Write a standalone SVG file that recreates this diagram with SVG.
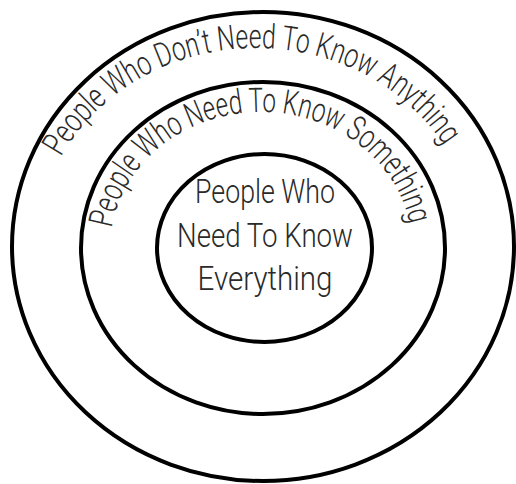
<svg xmlns="http://www.w3.org/2000/svg" width="516" height="484" viewBox="0 0 516 484">
<style>
.ring{fill:none;stroke:#000;stroke-width:4}
.lbl{font-family:Roboto,"Open Sans","Liberation Sans",sans-serif;font-weight:300;fill:#2a2a2a;font-size:34px}
.ctr{text-anchor:middle}
</style>
<defs>
<path id="arcOuter" d="M37,248 A219,200 0 0 1 475,248"/>
<path id="arcMiddle" d="M110,248 A151,136 0 0 1 412,248"/>
</defs>
<rect width="516" height="484" fill="#fff"/>
<g id="outer">
<ellipse class="ring" cx="263" cy="246.5" rx="251" ry="234.5"/>
<text class="lbl"><textPath href="#arcOuter" startOffset="95" textLength="455" lengthAdjust="spacingAndGlyphs">People Who Don’t Need To Know Anything</textPath></text>
</g>
<g id="middle">
<ellipse class="ring" cx="263" cy="248" rx="182" ry="166"/>
<text class="lbl"><textPath href="#arcMiddle" startOffset="20" textLength="407" lengthAdjust="spacingAndGlyphs">People Who Need To Know Something</textPath></text>
</g>
<g id="inner">
<ellipse class="ring" cx="264.5" cy="248" rx="107.5" ry="94"/>
<text class="lbl ctr" x="265" y="203" textLength="140" lengthAdjust="spacingAndGlyphs">People Who</text>
<text class="lbl ctr" x="265" y="247" textLength="176" lengthAdjust="spacingAndGlyphs">Need To Know</text>
<text class="lbl ctr" x="265" y="290" textLength="135" lengthAdjust="spacingAndGlyphs">Everything</text>
</g>
</svg>
